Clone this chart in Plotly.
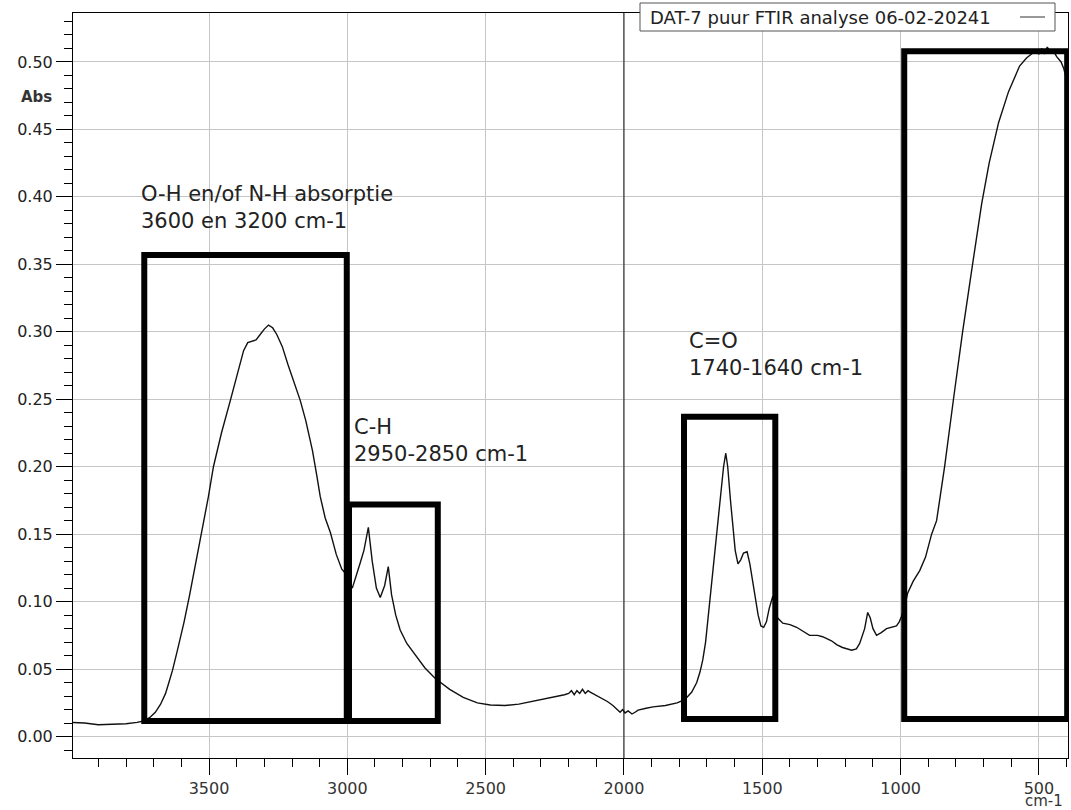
import plotly.graph_objects as go

# ---------------- data ----------------
wavenumber = [
    4000, 3950, 3900, 3850, 3800, 3760, 3737, 3715, 3694, 3675, 3657, 3645, 3632, 3614,
    3590, 3570, 3540, 3520, 3502, 3484, 3455, 3423, 3395, 3375, 3360, 3345, 3330, 3315,
    3300, 3285, 3270, 3255, 3235, 3215, 3199, 3170, 3150, 3126, 3110, 3098, 3080, 3061,
    3040, 3020, 3011, 2995, 2982, 2968, 2953, 2940, 2924, 2910, 2895, 2881, 2865, 2852,
    2840, 2825, 2809, 2785, 2761, 2720, 2682, 2630, 2581, 2530, 2483, 2430, 2380, 2339,
    2280, 2240, 2215, 2200, 2190, 2180, 2170, 2160, 2150, 2140, 2130, 2122, 2105, 2086,
    2060, 2040, 2025, 2014, 2005, 1996, 1985, 1971, 1960, 1949, 1920, 1895, 1850, 1808,
    1785, 1773, 1755, 1737, 1725, 1715, 1705, 1697, 1688, 1679, 1664, 1650, 1640, 1632,
    1625, 1615, 1605, 1598, 1588, 1578, 1568, 1555, 1545, 1530, 1515, 1505, 1495, 1485,
    1475, 1462, 1455, 1445, 1426, 1400, 1376, 1350, 1329, 1300, 1282, 1250, 1230, 1210,
    1177, 1160, 1148, 1130, 1119, 1110, 1100, 1087, 1070, 1051, 1030, 1015, 1005, 997,
    985, 975, 955, 931, 910, 888, 870, 841, 809, 776, 740, 707, 680, 646, 610, 570,
    545, 534, 520, 510, 500, 490, 480, 470, 460, 450, 436, 420, 410, 400, 395,
]
absorbance = [
    0.0105, 0.0100, 0.0088, 0.0090, 0.0095, 0.0105, 0.0115, 0.0140, 0.0180, 0.0240, 0.0320, 0.0400, 0.0490, 0.0640,
    0.0850, 0.1050, 0.1370, 0.1580, 0.1780, 0.2000, 0.2250, 0.2490, 0.2710, 0.2860, 0.2920, 0.2930, 0.2940, 0.2980,
    0.3020, 0.3050, 0.3030, 0.2980, 0.2890, 0.2760, 0.2660, 0.2490, 0.2340, 0.2120, 0.1930, 0.1780, 0.1620, 0.1510,
    0.1350, 0.1240, 0.1220, 0.1140, 0.1100, 0.1200, 0.1290, 0.1380, 0.1550, 0.1300, 0.1100, 0.1030, 0.1120, 0.1260,
    0.1050, 0.0900, 0.0790, 0.0690, 0.0620, 0.0510, 0.0430, 0.0350, 0.0290, 0.0250, 0.0234, 0.0230, 0.0240, 0.0256,
    0.0280, 0.0300, 0.0310, 0.0320, 0.0340, 0.0310, 0.0340, 0.0320, 0.0350, 0.0320, 0.0340, 0.0330, 0.0310, 0.0290,
    0.0260, 0.0230, 0.0200, 0.0180, 0.0200, 0.0175, 0.0190, 0.0167, 0.0180, 0.0196, 0.0210, 0.0220, 0.0230, 0.0250,
    0.0270, 0.0290, 0.0330, 0.0400, 0.0480, 0.0570, 0.0700, 0.0860, 0.1040, 0.1230, 0.1510, 0.1820, 0.2000, 0.2100,
    0.2000, 0.1750, 0.1500, 0.1380, 0.1280, 0.1310, 0.1360, 0.1370, 0.1280, 0.1100, 0.0900, 0.0820, 0.0810, 0.0850,
    0.0950, 0.1040, 0.0980, 0.0880, 0.0840, 0.0830, 0.0810, 0.0780, 0.0750, 0.0750, 0.0740, 0.0710, 0.0680, 0.0660,
    0.0640, 0.0650, 0.0690, 0.0800, 0.0920, 0.0880, 0.0800, 0.0750, 0.0770, 0.0800, 0.0810, 0.0820, 0.0850, 0.0890,
    0.0970, 0.1060, 0.1150, 0.1230, 0.1330, 0.1500, 0.1600, 0.2000, 0.2500, 0.3000, 0.3500, 0.3950, 0.4250, 0.4550, 0.4780, 0.4970,
    0.5030, 0.5050, 0.5070, 0.5080, 0.5060, 0.5100, 0.5060, 0.5110, 0.5080, 0.5090, 0.5040, 0.5000, 0.4950, 0.4870, 0.4800,
]

x_major_step = 500
x_minor_step = 100
y_major_step = 0.05
y_minor_step = 0.01

series_name = "DAT-7 puur FTIR analyse 06-02-20241"

# highlighted regions: (x_left, x_right, y_bottom, y_top)
region_x0 = [3734, 2994, 1783, 987]
region_x1 = [3002, 2673, 1453, 398]
region_y0 = [0.0115, 0.0115, 0.013, 0.013]
region_y1 = [0.357, 0.172, 0.237, 0.508]

region_labels = [
    "O-H en/of N-H absorptie<br>3600 en 3200 cm-1",
    "C-H<br>2950-2850 cm-1",
    "C=O<br>1740-1640 cm-1",
]
label_x = [3752, 2982, 1772]
label_y = [0.392, 0.2195, 0.2835]

# ---------------- figure ----------------
W, H = 1071, 810
ML, MR, MT, MB = 73, 3, 13, 52
PW, PH = W - ML - MR, H - MT - MB
X_RANGE = [3991.6, 395]
Y_RANGE = [-0.0159, 0.5363]


def px_x(px):
    return (px - ML) / PW


def px_y(py):
    return (H - MB - py) / PH


fig = go.Figure()
# empty trace that only carries the overlay axis used for the minor y ticks
fig.add_trace(go.Scatter(x=[], y=[], xaxis="x", yaxis="y2", showlegend=False, hoverinfo="skip"))
fig.add_trace(go.Scatter(
    x=wavenumber, y=absorbance, mode="lines",
    line=dict(color="#111111", width=1.4),
    name=series_name, showlegend=False,
))

shapes = []
shapes.append(dict(type="line", xref="x", yref="paper", x0=2000, x1=2000, y0=0, y1=1,
                   line=dict(color="#111111", width=1), layer="above"))
for a, b, c, d in zip(region_x0, region_x1, region_y0, region_y1):
    shapes.append(dict(type="rect", xref="x", yref="y", x0=a, x1=b, y0=c, y1=d,
                       line=dict(color="black", width=6), fillcolor="rgba(0,0,0,0)",
                       layer="above"))
shapes.append(dict(type="rect", xref="paper", yref="paper",
                   x0=px_x(640), x1=px_x(1055), y0=px_y(31), y1=px_y(3),
                   line=dict(color="#555555", width=1), fillcolor="white", layer="above"))
shapes.append(dict(type="line", xref="paper", yref="paper",
                   x0=px_x(1020), x1=px_x(1045), y0=px_y(17), y1=px_y(17),
                   line=dict(color="#333333", width=1), layer="above"))

annotations = []
for t, xx, yy in zip(region_labels, label_x, label_y):
    annotations.append(dict(text=t, x=xx, y=yy, xref="x", yref="y", showarrow=False,
                            xanchor="left", yanchor="middle", align="left",
                            font=dict(family="DejaVu Sans", size=21, color="#222222")))
annotations.append(dict(text=series_name, x=px_x(648), y=px_y(17), xref="paper", yref="paper",
                        showarrow=False, xanchor="left", yanchor="middle",
                        font=dict(family="DejaVu Sans", size=18, color="#222222")))
annotations.append(dict(text="<b>Abs</b>", x=px_x(36), y=px_y(97), xref="paper", yref="paper",
                        showarrow=False, xanchor="center", yanchor="middle",
                        font=dict(family="DejaVu Sans", size=15, color="#333333")))
annotations.append(dict(text="cm-1", x=px_x(1044), y=px_y(811), xref="paper", yref="paper",
                        showarrow=False, xanchor="center", yanchor="bottom", borderpad=0,
                        font=dict(family="DejaVu Sans", size=15, color="#333333")))

axis_common = dict(
    ticks="outside", ticklen=16, tickwidth=1, tickcolor="black",
    showline=True, linecolor="black", linewidth=1, mirror=True,
    showgrid=True, gridcolor="#c6c6c6", gridwidth=1, zeroline=False,
)

fig.update_layout(
    width=W, height=H,
    margin=dict(l=ML, r=MR, t=MT, b=MB, pad=0, autoexpand=False),
    paper_bgcolor="white", plot_bgcolor="white",
    showlegend=False,
    shapes=shapes, annotations=annotations,
    xaxis=dict(
        range=X_RANGE, tickmode="linear", tick0=0, dtick=x_major_step,
        tickfont=dict(family="DejaVu Sans", size=16, color="#333333"),
        minor=dict(dtick=x_minor_step, ticks="outside", ticklen=8, tickwidth=1,
                   tickcolor="black", showgrid=False),
        **axis_common,
    ),
    yaxis=dict(
        range=Y_RANGE, tickmode="linear", tick0=0, dtick=y_major_step, tickformat=".2f",
        tickfont=dict(family="DejaVu Sans", size=16, color="#222222"),
        **axis_common,
    ),
    yaxis2=dict(
        overlaying="y", anchor="x", side="left", range=Y_RANGE,
        tickmode="linear", tick0=0, dtick=y_minor_step,
        ticks="outside", ticklen=8, tickwidth=1, tickcolor="black",
        showticklabels=False, showgrid=False, showline=False, zeroline=False,
    ),
)

fig.write_html("out.html")
